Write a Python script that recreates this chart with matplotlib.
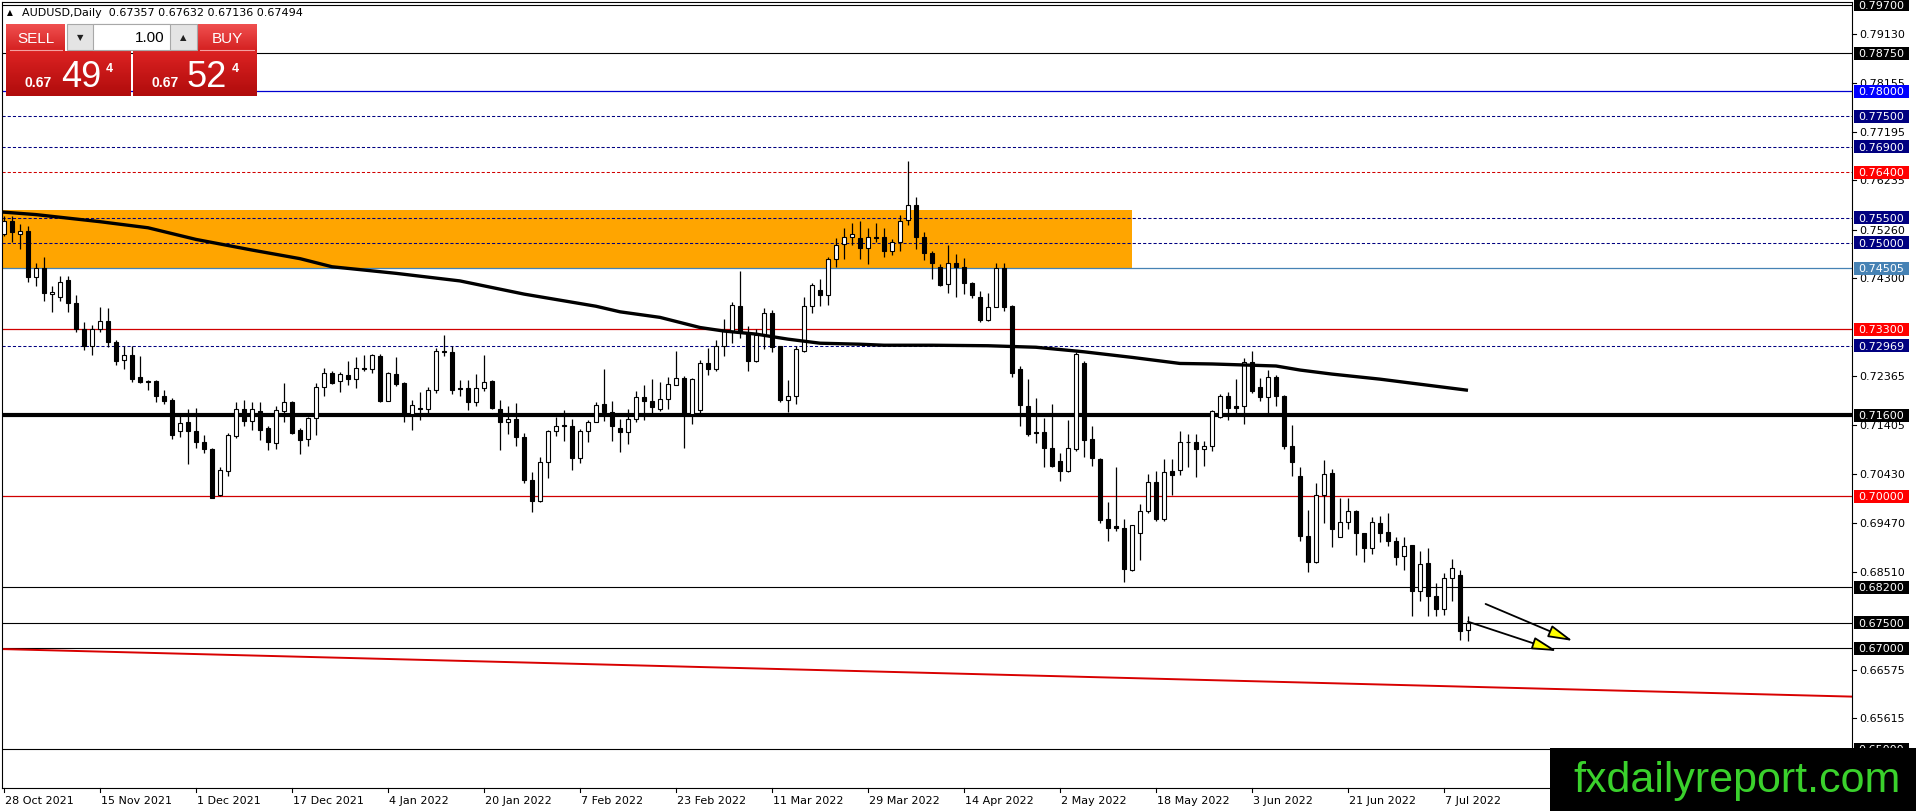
import numpy as np
import matplotlib
matplotlib.use("Agg")
import matplotlib.pyplot as plt
from matplotlib.patches import Rectangle, FancyArrowPatch
from matplotlib.colors import LinearSegmentedColormap
import matplotlib.transforms as mtransforms

# ---------------- DATA ----------------
opens = [0.7517,0.7544,0.7517,0.7523,0.7432,0.7450,0.7400,0.7394,0.7427,0.7381,
         0.7330,0.7297,0.7331,0.7346,0.7305,0.7268,0.7278,0.7236,0.7228,0.7227,
         0.7197,0.7190,0.7128,0.7146,0.7128,0.7106,0.7094,0.7002,0.7050,0.7118,
         0.7173,0.7149,0.7168,0.7134,0.7104,0.7169,0.7186,0.7131,0.7113,0.7155,
         0.7215,0.7244,0.7228,0.7240,0.7232,0.7253,0.7251,0.7277,0.7188,0.7242,
         0.7223,0.7162,0.7175,0.7173,0.7209,0.7286,0.7284,0.7213,0.7213,0.7185,
         0.7213,0.7228,0.7173,0.7146,0.7153,0.7116,0.7032,0.6991,0.7068,0.7129,
         0.7140,0.7139,0.7076,0.7128,0.7147,0.7181,0.7167,0.7134,0.7127,0.7152,
         0.7195,0.7187,0.7173,0.7192,0.7219,0.7234,0.7162,0.7170,0.7262,0.7251,
         0.7297,0.7326,0.7375,0.7323,0.7267,0.7318,0.7361,0.7296,0.7190,0.7197,
         0.7287,0.7376,0.7407,0.7398,0.7468,0.7498,0.7511,0.7509,0.7491,0.7511,
         0.7511,0.7484,0.7501,0.7545,0.7575,0.7511,0.7481,0.7453,0.7418,0.7460,
         0.7452,0.7421,0.7394,0.7348,0.7373,0.7450,0.7376,0.7252,0.7178,0.7127,
         0.7126,0.7096,0.7070,0.7049,0.7093,0.7263,0.7113,0.7074,0.6955,0.6940,
         0.6938,0.6855,0.6928,0.6971,0.7028,0.6955,0.7049,0.7052,0.7107,0.7106,
         0.7094,0.7098,0.7157,0.7198,0.7177,0.7177,0.7265,0.7215,0.7195,0.7236,
         0.7197,0.7098,0.7039,0.6922,0.6870,0.7003,0.7045,0.6920,0.6949,0.6971,
         0.6927,0.6897,0.6946,0.6930,0.6911,0.6881,0.6903,0.6813,0.6868,0.6802,
         0.6778,0.6838,0.6844,0.67357]
highs = [0.7553,0.7553,0.7537,0.7534,0.7461,0.7473,0.7414,0.7434,0.7434,0.7397,
         0.7343,0.7338,0.7374,0.7371,0.7309,0.7296,0.7296,0.7276,0.7230,0.7230,
         0.7210,0.7193,0.7159,0.7172,0.7175,0.7121,0.7096,0.7057,0.7124,0.7185,
         0.7190,0.7185,0.7185,0.7138,0.7178,0.7224,0.7188,0.7134,0.7157,0.7223,
         0.7254,0.7248,0.7246,0.7266,0.7274,0.7278,0.7281,0.7280,0.7246,0.7274,
         0.7226,0.7190,0.7205,0.7215,0.7292,0.7318,0.7296,0.7230,0.7230,0.7241,
         0.7278,0.7230,0.7190,0.7178,0.7183,0.7124,0.7047,0.7078,0.7131,0.7157,
         0.7171,0.7153,0.7132,0.7151,0.7185,0.7251,0.7187,0.7152,0.7172,0.7207,
         0.7219,0.7231,0.7226,0.7236,0.7287,0.7238,0.7234,0.7269,0.7292,0.7309,
         0.7350,0.7384,0.7444,0.7336,0.7330,0.7371,0.7368,0.7297,0.7230,0.7297,
         0.7394,0.7421,0.7428,0.7473,0.7509,0.7530,0.7539,0.7544,0.7530,0.7539,
         0.7529,0.7507,0.7555,0.7661,0.7590,0.7521,0.7485,0.7458,0.7496,0.7478,
         0.7471,0.7423,0.7405,0.7402,0.7460,0.7460,0.7377,0.7257,0.7231,0.7193,
         0.7155,0.7182,0.7086,0.7151,0.7285,0.7267,0.7138,0.7076,0.6988,0.7057,
         0.6955,0.6943,0.6984,0.7044,0.7049,0.7074,0.7074,0.7128,0.7122,0.7122,
         0.7109,0.7170,0.7201,0.7205,0.7232,0.7272,0.7286,0.7234,0.7249,0.7239,
         0.7200,0.7140,0.7057,0.6973,0.7026,0.7071,0.7053,0.6997,0.6996,0.6973,
         0.6928,0.6958,0.6960,0.6966,0.6920,0.6920,0.6903,0.6891,0.6897,0.6828,
         0.6849,0.6876,0.6855,0.67632]
lows = [0.7514,0.7502,0.7489,0.7422,0.7414,0.7386,0.7363,0.7386,0.7364,0.7325,
        0.7289,0.7278,0.7325,0.7294,0.7259,0.7252,0.7226,0.7223,0.7209,0.7185,
        0.7181,0.7113,0.7116,0.7063,0.7096,0.7086,0.6996,0.7001,0.7040,0.7114,
        0.7138,0.7131,0.7111,0.7092,0.7094,0.7147,0.7122,0.7083,0.7099,0.7121,
        0.7198,0.7221,0.7206,0.7219,0.7213,0.7248,0.7243,0.7186,0.7187,0.7217,
        0.7147,0.7131,0.7151,0.7163,0.7203,0.7276,0.7201,0.7197,0.7171,0.7178,
        0.7208,0.7172,0.7092,0.7122,0.7098,0.7025,0.6969,0.6989,0.7035,0.7119,
        0.7109,0.7052,0.7065,0.7107,0.7146,0.7149,0.7109,0.7088,0.7103,0.7146,
        0.7151,0.7165,0.7169,0.7173,0.7219,0.7096,0.7142,0.7165,0.7240,0.7248,
        0.7277,0.7303,0.7313,0.7248,0.7265,0.7290,0.7284,0.7186,0.7167,0.7182,
        0.7284,0.7361,0.7376,0.7377,0.7453,0.7468,0.7496,0.7468,0.7458,0.7501,
        0.7473,0.7476,0.7484,0.7535,0.7489,0.7467,0.7428,0.7415,0.7401,0.7394,
        0.7399,0.7392,0.7344,0.7345,0.7373,0.7366,0.7236,0.7138,0.7119,0.7105,
        0.7057,0.7058,0.7030,0.7047,0.7090,0.7078,0.7060,0.6947,0.6912,0.6932,
        0.6831,0.6853,0.6874,0.6967,0.6951,0.6951,0.7002,0.7042,0.7057,0.7037,
        0.7059,0.7090,0.7155,0.7151,0.7162,0.7142,0.7203,0.7188,0.7162,0.7177,
        0.7094,0.7039,0.6912,0.6851,0.6868,0.6947,0.6899,0.6920,0.6936,0.6884,
        0.6870,0.6886,0.6909,0.6901,0.6863,0.6855,0.6764,0.6793,0.6763,0.6763,
        0.6765,0.6793,0.6715,0.67136]
closes = [0.7544,0.7521,0.7523,0.7432,0.7450,0.7401,0.7404,0.7423,0.7381,0.7330,
          0.7297,0.7331,0.7346,0.7305,0.7267,0.7278,0.7232,0.7226,0.7226,0.7197,
          0.7188,0.7121,0.7144,0.7128,0.7106,0.7094,0.6997,0.7052,0.7121,0.7173,
          0.7149,0.7172,0.7131,0.7106,0.7170,0.7185,0.7124,0.7111,0.7155,0.7215,
          0.7244,0.7224,0.7241,0.7232,0.7254,0.7251,0.7278,0.7188,0.7243,0.7221,
          0.7160,0.7180,0.7173,0.7210,0.7286,0.7284,0.7210,0.7211,0.7185,0.7213,
          0.7226,0.7175,0.7146,0.7153,0.7116,0.7032,0.6991,0.7068,0.7129,0.7138,
          0.7138,0.7076,0.7128,0.7147,0.7180,0.7167,0.7138,0.7127,0.7153,0.7195,
          0.7187,0.7176,0.7192,0.7221,0.7234,0.7162,0.7232,0.7262,0.7252,0.7297,
          0.7326,0.7377,0.7326,0.7267,0.7318,0.7361,0.7294,0.7190,0.7197,0.7290,
          0.7376,0.7417,0.7398,0.7468,0.7496,0.7511,0.7517,0.7491,0.7511,0.7509,
          0.7484,0.7502,0.7544,0.7575,0.7511,0.7481,0.7461,0.7417,0.7461,0.7452,
          0.7420,0.7397,0.7348,0.7373,0.7450,0.7374,0.7244,0.7180,0.7122,0.7124,
          0.7095,0.7060,0.7049,0.7096,0.7280,0.7111,0.7076,0.6953,0.6938,0.6937,
          0.6857,0.6942,0.6971,0.7028,0.6955,0.7048,0.7042,0.7107,0.7106,0.7094,
          0.7098,0.7169,0.7198,0.7175,0.7175,0.7265,0.7208,0.7195,0.7236,0.7197,
          0.7098,0.7067,0.6922,0.6870,0.7003,0.7043,0.6936,0.6949,0.6971,0.6927,
          0.6897,0.6948,0.6928,0.6911,0.6879,0.6902,0.6813,0.6865,0.6802,0.6778,
          0.6838,0.6859,0.6734,0.67494]

ma_bars = [-1, 4, 12, 18, 24, 31, 37, 41, 49, 57, 65, 74, 77, 82, 87, 90, 94,
           98, 102, 107, 110, 116, 123, 129, 135, 141, 147, 151, 159, 162, 166,
           172, 178, 183]
ma_values = [0.7562, 0.7556, 0.7542, 0.7530, 0.7507, 0.7486, 0.7469, 0.7453,
             0.7440, 0.7425, 0.7399, 0.7375, 0.7364, 0.7353, 0.7333, 0.7326,
             0.7320, 0.7310, 0.7302, 0.7300, 0.7298, 0.7298, 0.7297, 0.7294,
             0.7285, 0.7274, 0.7262, 0.7261, 0.7257, 0.7249, 0.7241, 0.7231,
             0.7219, 0.7209]

level_prices = [0.797, 0.7875, 0.780, 0.775, 0.769, 0.764, 0.755, 0.750,
                0.74505, 0.733, 0.72969, 0.716, 0.700, 0.682, 0.675, 0.670, 0.650]
level_labels = ['0.79700', '0.78750', '0.78000', '0.77500', '0.76900', '0.76400',
                '0.75500', '0.75000', '0.74505', '0.73300', '0.72969', '0.71600',
                '0.70000', '0.68200', '0.67500', '0.67000', '0.65000']

tick_prices = [0.79130, 0.78155, 0.77195, 0.76235, 0.75260, 0.74300, 0.72365,
               0.71405, 0.70430, 0.69470, 0.68510, 0.66575, 0.65615]

date_bars = [0, 12, 24, 36, 48, 60, 72, 84, 96, 108, 120, 132, 144, 156, 168, 180]
date_labels = ['28 Oct 2021', '15 Nov 2021', '1 Dec 2021', '17 Dec 2021',
               '4 Jan 2022', '20 Jan 2022', '7 Feb 2022', '23 Feb 2022',
               '11 Mar 2022', '29 Mar 2022', '14 Apr 2022', '2 May 2022',
               '18 May 2022', '3 Jun 2022', '21 Jun 2022', '7 Jul 2022']

zone_top = 0.7565
zone_bottom = 0.74505
zone_end_bar = 141

trend_bars = [-0.5, 231.0]
trend_prices = [0.6698, 0.6604]

arrow_starts = [(185.2, 0.6787), (183.0, 0.6752)]
arrow_ends = [(196.1, 0.6714), (194.1, 0.6694)]

header = 'AUDUSD,Daily  0.67357 0.67632 0.67136 0.67494'

# ---------------- STYLES ----------------
NAVY = '#000080'
RED_L = '#D00000'
level_line_colors = ['black', 'black', '#0000D0', NAVY, NAVY, RED_L, NAVY, NAVY,
                     '#4682B4', RED_L, NAVY, 'black', RED_L, 'black', 'black',
                     'black', 'black']
level_box_colors = ['black', 'black', '#0000FF', NAVY, NAVY, '#FF0000', NAVY, NAVY,
                    '#4682B4', '#FF0000', NAVY, 'black', '#FF0000', 'black',
                    'black', 'black', 'black']
DASH = (0, (3, 2))
level_styles = ['-', '-', '-', DASH, DASH, DASH, DASH, DASH, '-', '-', DASH,
                '-', '-', '-', '-', '-', '-']
level_widths = [0.8, 0.8, 0.9, 0.75, 0.75, 0.75, 0.75, 0.75, 0.9, 0.9, 0.75,
                3.0, 0.9, 0.8, 0.8, 0.8, 0.8]

W, H = 1916, 812
AX_L, AX_R, AX_T, AX_B = 1.5, 1852.0, 3.0, 789.0
AX_W = AX_R - AX_L
AX_H = AX_B - AX_T

fig = plt.figure(figsize=(W / 100, H / 100), dpi=100)
fig.patch.set_facecolor('white')
ax = fig.add_axes([AX_L / W, (H - AX_B) / H, AX_W / W, AX_H / H])
ax.set_facecolor('white')

ax.set_xlim(-0.3125, 231.0)
ax.set_ylim(0.64235, 0.79759)
ax.set_xticks([])
ax.set_yticks([])
for s in ax.spines.values():
    s.set_linewidth(0.8)
    s.set_color('black')

# zone
ax.add_patch(Rectangle((-3, zone_bottom), zone_end_bar + 3, zone_top - zone_bottom,
                       facecolor='#FFA500', edgecolor='none', zorder=1))

# horizontal levels
for p, c, ls, lw in zip(level_prices, level_line_colors, level_styles, level_widths):
    ax.axhline(p, color=c, linestyle=ls, linewidth=lw, zorder=2)

# trend line
ax.plot(trend_bars, trend_prices, color='#D80000', lw=1.4, zorder=2)

# candles
o = np.array(opens); h = np.array(highs); l = np.array(lows); c = np.array(closes)
idx = np.arange(len(o))
up = c >= o
ax.vlines(idx, l, h, color='black', lw=0.9, zorder=3)
ax.bar(idx, np.abs(c - o), bottom=np.minimum(o, c), width=0.58,
       color=np.where(up, 'white', 'black'), edgecolor='black', linewidth=0.8, zorder=4)

# moving average
ax.plot(ma_bars, ma_values, color='black', lw=2.4, zorder=5, solid_joinstyle='round',
        solid_capstyle='butt')

# arrows
for s, e in zip(arrow_starts, arrow_ends):
    ax.add_patch(FancyArrowPatch(s, e, arrowstyle='-|>,head_length=0.75,head_width=0.19',
                                 mutation_scale=20, facecolor='#FFFF00', edgecolor='black',
                                 lw=1.3, zorder=6, shrinkA=0, shrinkB=0))

# price scale
trans_y = mtransforms.blended_transform_factory(ax.transAxes, ax.transData)


def axx(px):
    return (px - AX_L) / AX_W


for p in tick_prices:
    ax.plot([axx(1852), axx(1856)], [p, p], transform=trans_y, color='black', lw=0.8,
            clip_on=False)
    ax.text(axx(1859), p, f'{p:.5f}', transform=trans_y, fontsize=8, va='center',
            ha='left', color='black', clip_on=False, zorder=6)

box_h = 13.0 / 5063.0
for p, lab, bc in zip(level_prices, level_labels, level_box_colors):
    ax.add_patch(Rectangle((axx(1854), p - box_h / 2), axx(1909) - axx(1854), box_h,
                           transform=trans_y, facecolor=bc, edgecolor='none',
                           clip_on=False, zorder=8))
    ax.text(axx(1858), p, lab, transform=trans_y, fontsize=8, va='center', ha='left',
            color='white', clip_on=False, zorder=9)

# date axis
trans_x = mtransforms.blended_transform_factory(ax.transData, ax.transAxes)
for b, lab in zip(date_bars, date_labels):
    ax.plot([b, b], [0, -4 / AX_H], transform=trans_x, color='black', lw=0.8,
            clip_on=False)
    ax.text(b, -12.5 / AX_H, lab,
            transform=mtransforms.offset_copy(trans_x, fig=fig, x=1.0, units='dots'),
            fontsize=8, ha='left', va='center', color='black', clip_on=False)

# ---------------- overlay (panel, header, watermark) ----------------
ov = fig.add_axes([0, 0, 1, 1], zorder=10)
ov.axis('off')


def grad_box(x0, y0, x1, y1, top, bottom, z=1):
    cm = LinearSegmentedColormap.from_list('g', [top, bottom])
    ov.imshow(np.linspace(0, 1, 64).reshape(-1, 1), extent=(x0, x1, y1, y0), cmap=cm,
              aspect='auto', zorder=z, interpolation='bilinear')


# header
ov.text(7, 12.5, '\u25B2', fontsize=5.5, va='center', ha='left', color='black')
ov.text(22, 12.5, header, fontsize=8, va='center', ha='left', color='black')

# one-click trading panel
grad_box(6, 25, 65, 52, '#F05050', '#D42020')
grad_box(197, 25, 257, 52, '#F05050', '#D42020')
ov.plot([10, 62], [51, 51], color='#F4A0A0', lw=0.8, zorder=2)
ov.plot([200, 254], [51, 51], color='#F4A0A0', lw=0.8, zorder=2)
ov.text(35.5, 39, 'SELL', fontsize=11, color='white', ha='center', va='center',
        family='Liberation Sans', zorder=3)
ov.text(227, 39, 'BUY', fontsize=11, color='white', ha='center', va='center',
        family='Liberation Sans', zorder=3)
ov.add_patch(Rectangle((67, 25), 130, 26, facecolor='#E4E4E4', edgecolor='#A8A8A8',
                       lw=0.8, zorder=2))
ov.add_patch(Rectangle((93, 25), 77, 26, facecolor='white', edgecolor='#A8A8A8',
                       lw=0.8, zorder=2))
ov.text(80, 38, '\u25BC', fontsize=6, ha='center', va='center', color='#202020', zorder=3)
ov.text(183, 38, '\u25B2', fontsize=6, ha='center', va='center', color='#202020', zorder=3)
ov.text(165, 38.5, '1.00', fontsize=11, ha='right', va='center', color='black',
        family='Liberation Sans', zorder=3)
grad_box(6, 52, 131, 97, '#DC2222', '#B00C0C')
grad_box(133, 52, 257, 97, '#DC2222', '#B00C0C')
ov.text(25, 87, '0.67', fontsize=10, fontweight='bold', color='white', ha='left',
        va='baseline', family='Liberation Sans', zorder=3)
ov.text(61, 87, '49', fontsize=26, color='white', ha='left', va='baseline',
        family='Liberation Sans', zorder=3)
ov.text(106, 72, '4', fontsize=9, fontweight='bold', color='white', ha='left',
        va='baseline', family='Liberation Sans', zorder=3)
ov.text(152, 87, '0.67', fontsize=10, fontweight='bold', color='white', ha='left',
        va='baseline', family='Liberation Sans', zorder=3)
ov.text(187, 87, '52', fontsize=26, color='white', ha='left', va='baseline',
        family='Liberation Sans', zorder=3)
ov.text(232, 72, '4', fontsize=9, fontweight='bold', color='white', ha='left',
        va='baseline', family='Liberation Sans', zorder=3)

# watermark
ov.add_patch(Rectangle((1550, 749), 366, 63, facecolor='black', edgecolor='none', zorder=4))
ov.text(1737, 781, 'fxdailyreport.com', fontsize=31, color='#3AD12C', ha='center',
        va='center', family='Liberation Sans', zorder=5)

ov.set_xlim(0, W)
ov.set_ylim(H, 0)

fig.savefig('out.png', dpi=100)
